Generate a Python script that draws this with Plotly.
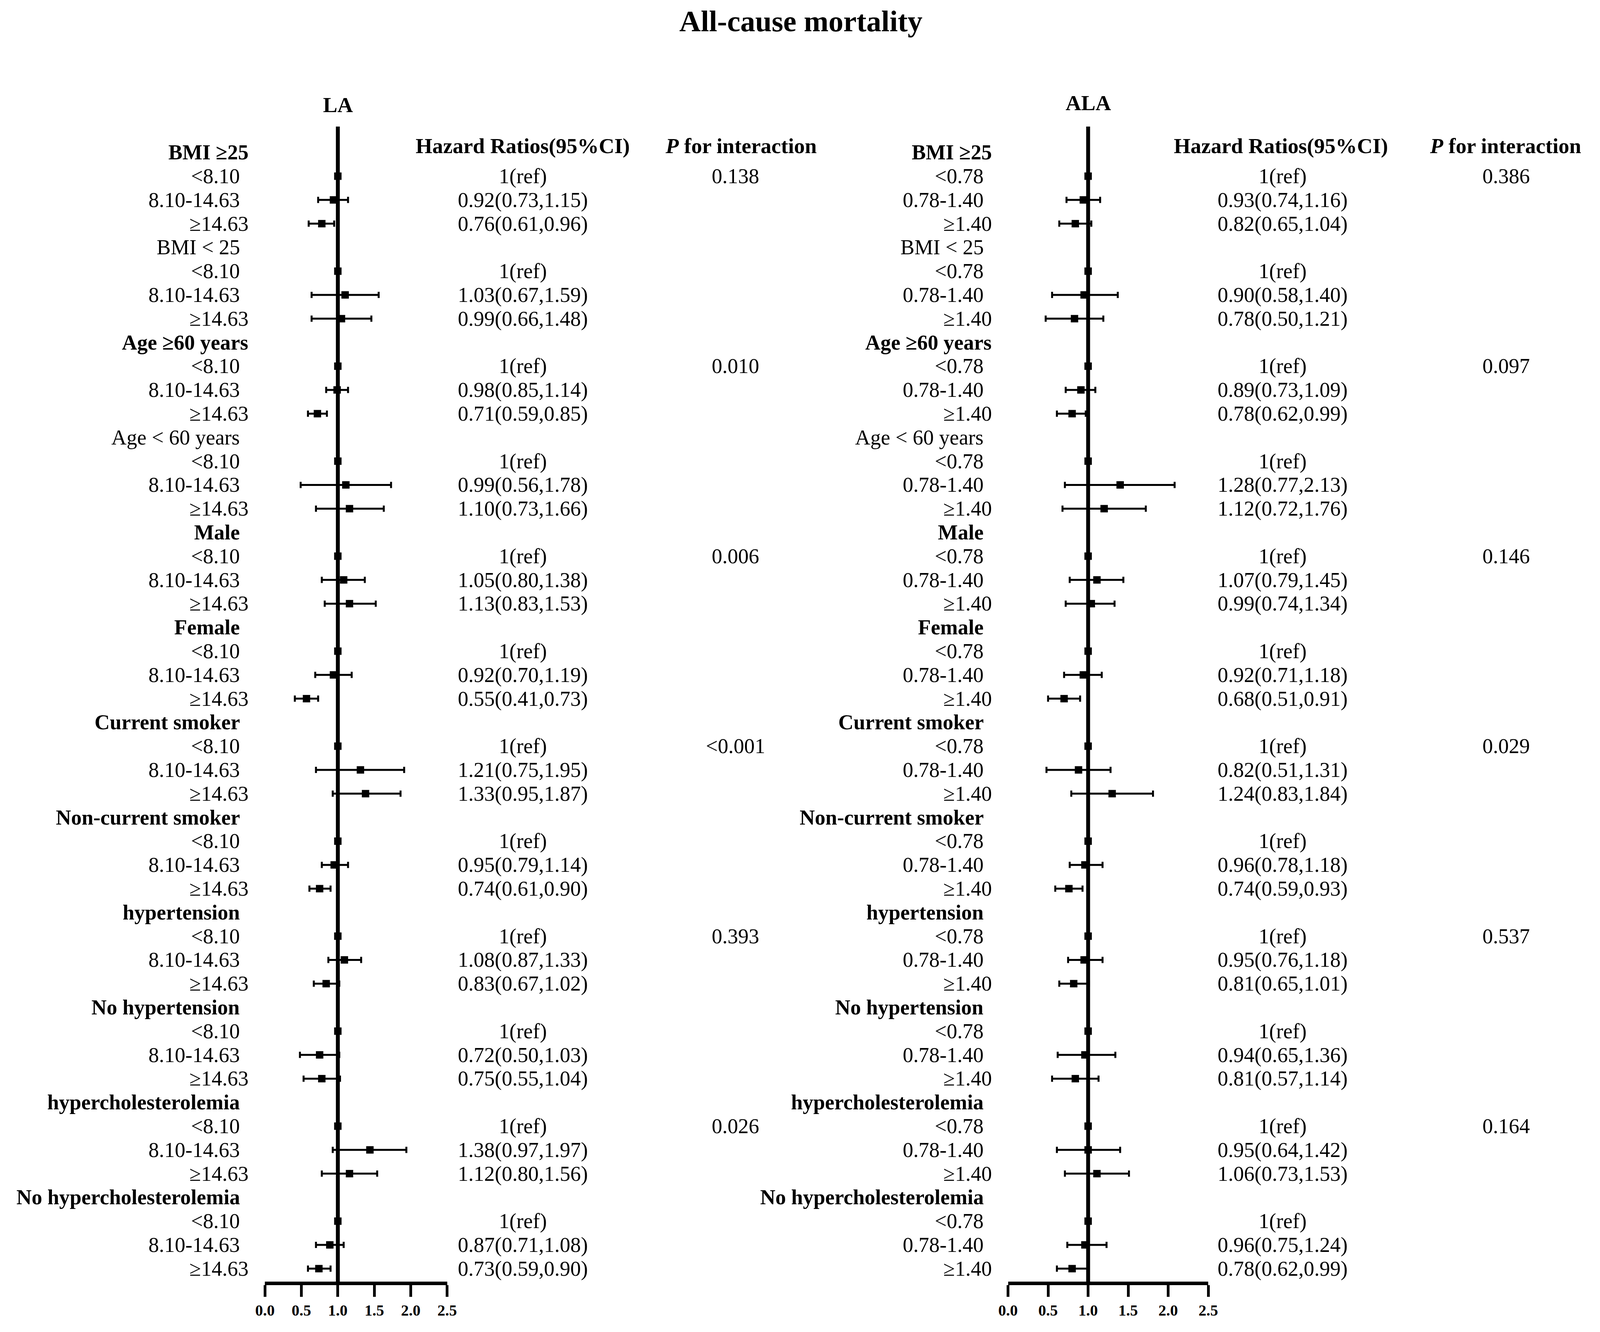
import plotly.graph_objects as go

# ---------------- data ----------------
groups = ["BMI ≥25", "BMI < 25", "Age ≥60 years", "Age < 60 years", "Male", "Female",
          "Current smoker", "Non-current smoker", "hypertension", "No hypertension",
          "hypercholesterolemia", "No hypercholesterolemia"]
group_bold = [True, False, True, False, True, True, True, True, True, True, True, True]

la_levels = ["<8.10", "8.10-14.63", "≥14.63"]
ala_levels = ["<0.78", "0.78-1.40", "≥1.40"]

# LA: text column (per group: level 2, level 3; level 1 = reference)
la_text = ["0.92(0.73,1.15)", "0.76(0.61,0.96)", "1.03(0.67,1.59)", "0.99(0.66,1.48)",
           "0.98(0.85,1.14)", "0.71(0.59,0.85)", "0.99(0.56,1.78)", "1.10(0.73,1.66)",
           "1.05(0.80,1.38)", "1.13(0.83,1.53)", "0.92(0.70,1.19)", "0.55(0.41,0.73)",
           "1.21(0.75,1.95)", "1.33(0.95,1.87)", "0.95(0.79,1.14)", "0.74(0.61,0.90)",
           "1.08(0.87,1.33)", "0.83(0.67,1.02)", "0.72(0.50,1.03)", "0.75(0.55,1.04)",
           "1.38(0.97,1.97)", "1.12(0.80,1.56)", "0.87(0.71,1.08)", "0.73(0.59,0.90)"]
# LA: plotted points (as drawn)
la_hr = [0.94, 0.78, 1.10, 1.05, 0.99, 0.72, 1.11, 1.16, 1.08, 1.16, 0.94, 0.57,
         1.31, 1.38, 0.95, 0.75, 1.09, 0.84, 0.75, 0.78, 1.44, 1.16, 0.89, 0.74]
la_lo = [0.73, 0.60, 0.64, 0.64, 0.84, 0.59, 0.49, 0.70, 0.78, 0.82, 0.69, 0.41,
         0.70, 0.93, 0.78, 0.61, 0.87, 0.67, 0.48, 0.53, 0.93, 0.78, 0.70, 0.59]
la_hi = [1.14, 0.95, 1.56, 1.46, 1.14, 0.85, 1.73, 1.63, 1.37, 1.52, 1.19, 0.73,
         1.91, 1.86, 1.14, 0.90, 1.32, 1.02, 1.02, 1.03, 1.94, 1.54, 1.08, 0.90]
la_p = ["0.138", "", "0.010", "", "0.006", "", "<0.001", "", "0.393", "", "0.026", ""]

ala_text = ["0.93(0.74,1.16)", "0.82(0.65,1.04)", "0.90(0.58,1.40)", "0.78(0.50,1.21)",
            "0.89(0.73,1.09)", "0.78(0.62,0.99)", "1.28(0.77,2.13)", "1.12(0.72,1.76)",
            "1.07(0.79,1.45)", "0.99(0.74,1.34)", "0.92(0.71,1.18)", "0.68(0.51,0.91)",
            "0.82(0.51,1.31)", "1.24(0.83,1.84)", "0.96(0.78,1.18)", "0.74(0.59,0.93)",
            "0.95(0.76,1.18)", "0.81(0.65,1.01)", "0.94(0.65,1.36)", "0.81(0.57,1.14)",
            "0.95(0.64,1.42)", "1.06(0.73,1.53)", "0.96(0.75,1.24)", "0.78(0.62,0.99)"]
ala_hr = [0.94, 0.84, 0.95, 0.83, 0.91, 0.80, 1.40, 1.20, 1.11, 1.04, 0.94, 0.70,
          0.88, 1.30, 0.96, 0.76, 0.95, 0.82, 0.96, 0.84, 1.00, 1.11, 0.96, 0.80]
ala_lo = [0.73, 0.64, 0.55, 0.47, 0.72, 0.61, 0.71, 0.68, 0.77, 0.72, 0.70, 0.50,
          0.48, 0.79, 0.77, 0.59, 0.75, 0.64, 0.62, 0.55, 0.61, 0.71, 0.74, 0.61]
ala_hi = [1.15, 1.04, 1.37, 1.19, 1.09, 0.97, 2.08, 1.72, 1.44, 1.33, 1.17, 0.90,
          1.28, 1.81, 1.18, 0.93, 1.18, 1.01, 1.34, 1.13, 1.40, 1.51, 1.23, 0.99]
ala_p = ["0.386", "", "0.097", "", "0.146", "", "0.029", "", "0.537", "", "0.164", ""]

x_ticks = [0.0, 0.5, 1.0, 1.5, 2.0, 2.5]
ref_text = "1(ref)"

# ---------------- layout geometry (positions as fractions of the page) ----------------
W, H = 4961, 3410
FONT = "Liberation Serif"
FS_ROW = 54
FS_HDR = 55
ROW0, ROWH = 390.2, 60.8          # pixel y of row 0 and row pitch
TOP_PX, BOT_PX = 324, 3281
y_range = [(BOT_PX - ROW0) / ROWH, (TOP_PX - ROW0) / ROWH]


def px(xp):
    return xp / W


def py(yp):
    return 1 - yp / H


panels = [
    dict(xa="x", dom=[801 / W, 1373 / W], levels=la_levels, text=la_text,
         hr=la_hr, lo=la_lo, hi=la_hi, p=la_p, lab_x=724, lab_x_ge=750,
         hr_x=1610, p_x=2278, p_hdr_x=2295, hr_hdr_x=1610, title="LA", title_x=1030, title_y=269),
    dict(xa="x2", dom=[3133.5 / W, 3762 / W], levels=ala_levels, text=ala_text,
         hr=ala_hr, lo=ala_lo, hi=ala_hi, p=ala_p, lab_x=3058, lab_x_ge=3084,
         hr_x=3995, p_x=4697, p_hdr_x=4695, hr_hdr_x=3990, title="ALA", title_x=3385, title_y=264),
]

fig = go.Figure()
annotations = []


def ann(text, x, y, yref="y", xanchor="center", bold=False, size=FS_ROW):
    annotations.append(dict(
        text=("<b>%s</b>" % text) if bold else text, x=x, y=y, xref="paper", yref=yref,
        xanchor=xanchor, yanchor="middle", showarrow=False, borderpad=0,
        font=dict(family=FONT, size=size, color="black")))


for pn in panels:
    ref_rows, pt_rows, err_p, err_m, pt_x = [], [], [], [], []
    for g, name in enumerate(groups):
        base = 4 * g
        lx = pn["lab_x_ge"] if "≥" in name else pn["lab_x"]
        ann(name, px(lx), base, xanchor="right", bold=group_bold[g])
        for k, lev in enumerate(pn["levels"]):
            r = base + 1 + k
            lx = pn["lab_x_ge"] if "≥" in lev else pn["lab_x"]
            ann(lev, px(lx), r, xanchor="right")
            if k == 0:
                ref_rows.append(r)
                ann(ref_text, px(pn["hr_x"]), r)
                if pn["p"][g]:
                    ann(pn["p"][g], px(pn["p_x"]), r)
            else:
                i = 2 * g + (k - 1)
                pt_rows.append(r)
                pt_x.append(pn["hr"][i])
                err_p.append(pn["hi"][i] - pn["hr"][i])
                err_m.append(pn["hr"][i] - pn["lo"][i])
                ann(pn["text"][i], px(pn["hr_x"]), r)

    # headers
    ann("Hazard Ratios(95%CI)", px(pn["hr_hdr_x"]), py(373), yref="paper", bold=True, size=FS_HDR)
    ann("<i>P</i> for interaction", px(pn["p_hdr_x"]), py(373), yref="paper", bold=True, size=FS_HDR)
    ann(pn["title"], px(pn["title_x"]), py(pn["title_y"]), yref="paper", bold=True, size=FS_HDR)

    fig.add_shape(type="line", xref=pn["xa"], yref="y domain", x0=1, x1=1, y0=0, y1=1,
                  line=dict(color="black", width=10), layer="below")

    fig.add_trace(go.Scatter(
        x=[1.0] * len(ref_rows), y=ref_rows, mode="markers", xaxis=pn["xa"], yaxis="y",
        marker=dict(symbol="square", size=19, color="black"), showlegend=False,
        cliponaxis=False))
    fig.add_trace(go.Scatter(
        x=pt_x, y=pt_rows, mode="markers", xaxis=pn["xa"], yaxis="y",
        marker=dict(symbol="square", size=19, color="black"), showlegend=False,
        cliponaxis=False,
        error_x=dict(type="data", array=err_p, arrayminus=err_m, symmetric=False,
                     color="black", thickness=5, width=8)))

ann("All-cause mortality", px(2484), py(54), yref="paper", bold=True, size=76)

axis_common = dict(range=[0, 2.5], tickvals=x_ticks, ticktext=["%.1f" % v for v in x_ticks],
                   showgrid=False, zeroline=False, showline=True, linecolor="black",
                   linewidth=9, ticks="outside", ticklen=30, tickwidth=7, tickcolor="black",
                   tickfont=dict(family=FONT, size=40, color="black", weight="bold"),
                   fixedrange=True)

fig.update_layout(
    width=W, height=H, margin=dict(l=0, r=0, t=0, b=0),
    paper_bgcolor="white", plot_bgcolor="white",
    xaxis=dict(domain=panels[0]["dom"], anchor="y", **axis_common),
    xaxis2=dict(domain=panels[1]["dom"], anchor="y", **axis_common),
    yaxis=dict(domain=[py(BOT_PX), py(TOP_PX)], range=y_range, showgrid=False,
               zeroline=False, showline=False, showticklabels=False, ticks=""),
    annotations=annotations,
    showlegend=False,
)

# all positions are relative to the page, so let the figure fill the actual window width
fit_js = ("document.body.style.margin='0';document.body.style.overflow='hidden';"
          "var gd=document.getElementById('{plot_id}');"
          "var w=window.innerWidth;"
          "if(w>0 && Math.abs(w-%d)>2){Plotly.relayout(gd,{width:w});}" % W)

fig.write_html("out.html", post_script=fit_js, config={"displayModeBar": False})
